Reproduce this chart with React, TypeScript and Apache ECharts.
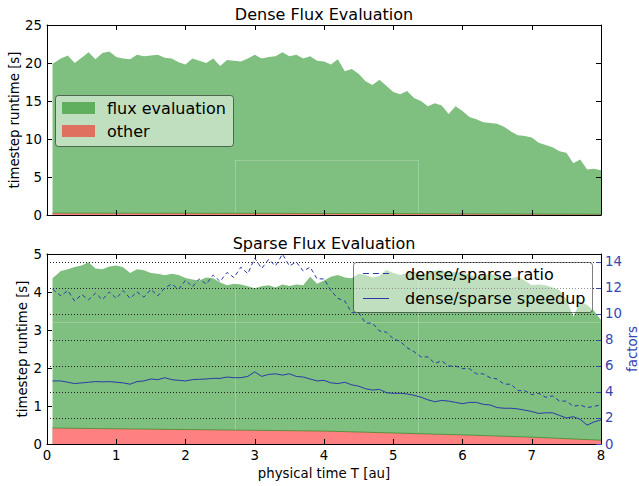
import React, { useEffect, useRef } from "react";
import * as echarts from "echarts";

// ---------- data ----------
const areaTime = [
  0.08, 0.2, 0.3, 0.4, 0.5, 0.6, 0.7, 0.8, 0.9, 1.0,
  1.1, 1.2, 1.3, 1.4, 1.5, 1.6, 1.7, 1.8, 1.9, 2.0,
  2.1, 2.2, 2.3, 2.4, 2.5, 2.6, 2.7, 2.8, 2.9, 3.0,
  3.1, 3.2, 3.3, 3.4, 3.5, 3.6, 3.7, 3.8, 3.9, 4.0,
  4.1, 4.2, 4.3, 4.4, 4.5, 4.6, 4.7, 4.8, 4.9, 5.0,
  5.1, 5.2, 5.3, 5.4, 5.5, 5.6, 5.7, 5.8, 5.9, 6.0,
  6.1, 6.2, 6.3, 6.4, 6.5, 6.6, 6.7, 6.8, 6.9, 7.0,
  7.1, 7.2, 7.3, 7.4, 7.5, 7.6, 7.7, 7.8, 7.9, 8.0,
];

// dense: total timestep runtime (flux evaluation + other) [s]
const denseTotal = [
  19.9, 20.6, 21.0, 20.0, 20.7, 21.4, 20.5, 21.3, 21.5, 20.8,
  20.6, 20.5, 21.1, 20.9, 21.0, 21.1, 20.7, 20.6, 20.1, 19.8,
  20.6, 20.3, 20.0, 20.6, 19.6, 20.4, 20.3, 20.2, 20.6, 21.1,
  20.6, 20.8, 20.9, 21.4, 20.9, 21.1, 20.6, 20.9, 20.3, 20.2,
  19.8, 20.5, 18.9, 19.2, 18.6, 17.6, 17.1, 17.8, 17.0, 16.2,
  15.9, 16.3, 15.4, 15.0, 14.3, 14.7, 14.4, 13.3, 14.3, 13.7,
  12.9, 12.6, 12.2, 12.1, 12.0, 11.6, 11.0, 10.5, 10.4, 10.2,
  9.5, 9.2, 8.9, 8.4, 8.2, 6.8, 7.3, 6.0, 6.1, 5.9,
];

// sparse: total timestep runtime [s]
const sparseTotal = [
  4.36, 4.55, 4.6, 4.66, 4.7, 4.78, 4.62, 4.6, 4.67, 4.7,
  4.65, 4.5, 4.6, 4.57, 4.5, 4.48, 4.44, 4.48, 4.45, 4.37,
  4.33, 4.3, 4.38, 4.36, 4.25, 4.18, 4.22, 4.2, 4.15, 4.1,
  4.15, 4.18, 4.12, 4.2, 4.16, 4.2, 4.18, 4.4, 4.22, 4.3,
  4.4, 4.45, 4.38, 4.36, 4.48, 4.45, 4.38, 4.42, 4.58, 4.5,
  4.45, 4.5, 4.53, 4.47, 4.5, 4.56, 4.58, 4.5, 4.53, 4.5,
  4.46, 4.4, 4.43, 4.48, 4.42, 4.33, 4.36, 4.4, 4.3, 4.18,
  4.2, 4.18, 4.12, 4.05, 3.8, 3.35, 3.75, 3.66, 3.5, 3.26,
];

const otherTime = [0.08, 1, 2, 3, 4, 5, 6, 7, 8];
const denseOther = [0.25, 0.24, 0.23, 0.22, 0.2, 0.18, 0.15, 0.12, 0.1];
const sparseOther = [0.42, 0.4, 0.38, 0.36, 0.34, 0.29, 0.24, 0.18, 0.1];

// factors (right axis)
const ratio = [
  11.9, 11.4, 11.8, 11.0, 11.5, 11.1, 11.6, 11.1, 11.7, 11.2,
  11.8, 11.2, 11.7, 11.3, 11.9, 11.4, 12.0, 12.3, 11.9, 12.6,
  12.1, 12.7, 12.3, 13.0, 12.5, 13.2, 12.8, 13.6, 13.1, 14.3,
  13.5, 14.2, 13.7, 14.6, 13.7, 14.0, 13.3, 13.6, 12.7, 12.7,
  11.8, 11.2, 11.0, 10.1, 10.1, 9.3, 9.3, 8.7, 8.6, 8.1,
  7.9, 7.4, 7.1, 6.7, 6.7, 6.2, 6.4, 6.0, 6.0, 5.8,
  5.8, 5.4, 5.4, 5.1, 5.0, 4.6, 4.6, 4.1, 4.1, 3.8,
  3.9, 3.6, 3.7, 3.3, 3.3, 2.9, 3.0, 2.8, 2.9, 3.0,
];
const speedup = [
  4.85, 4.85, 4.75, 4.65, 4.7, 4.75, 4.8, 4.78, 4.8, 4.75,
  4.7, 4.6, 4.8, 4.85, 5.0, 4.95, 5.1, 4.95, 4.9, 4.85,
  4.95, 4.98, 5.0, 5.05, 5.05, 5.15, 5.1, 5.1, 5.2, 5.55,
  5.2, 5.35, 5.4, 5.3, 5.4, 5.2, 5.15, 5.0, 4.85, 4.9,
  4.7, 4.65, 4.75, 4.55, 4.45, 4.25, 4.15, 4.2, 3.95, 3.9,
  3.9, 3.85, 3.75, 3.6, 3.4, 3.25, 3.35, 3.3, 3.2, 3.1,
  3.2, 3.2, 3.05, 3.0, 2.8, 2.75, 2.75, 2.7, 2.6, 2.5,
  2.35, 2.4, 2.4, 2.2, 2.0, 2.1, 1.9, 1.45, 1.7, 1.85,
];

const denseTicks = [0, 25, 5];
const sparseTicks = [0, 5, 1];
const factorTicks = [0, 14.615, 2];
const timeTicks = [0, 8, 1];

const FONT = "DejaVu Sans";
const GREEN = "rgba(0,128,0,0.5)";
const RED = "rgba(255,0,0,0.5)";
const RED_FILL = "#ff8080";
const BLUE = "#2a3aa8";
const FACTOR_BLUE = "#3646b0";
const FAINT = "rgba(255,255,255,0.22)";

export default function App() {
  const ref = useRef<HTMLDivElement>(null);

  useEffect(() => {
    document.body.style.margin = "0";
    const chart = echarts.init(ref.current!, null, { renderer: "svg" });
    const pairs = (xs: number[], ys: number[]) => xs.map((x, i) => [x, ys[i]]);

    const base = (showLabel: boolean, tickColor = "#000") => ({
      type: "value",
      z: 5,
      nameMoveOverlap: false,
      axisLine: { show: true, onZero: false, lineStyle: { color: "#000", width: 1 } },
      axisTick: { show: true, inside: true, length: 5, lineStyle: { color: tickColor, width: 1 } },
      axisLabel: { show: showLabel, color: "#000", fontSize: 13.3, fontFamily: FONT },
      splitLine: { show: false },
    });

    const xAx = (grid: number, pos: string, label: boolean) => ({
      ...base(label),
      gridIndex: grid,
      position: pos,
      min: timeTicks[0],
      max: timeTicks[1],
      interval: timeTicks[2],
      axisLabel: { show: label, color: "#000", fontSize: 13.3, fontFamily: FONT, margin: 5 },
    });

    const faintLines = (segs: number[][][]) => ({
      silent: true,
      symbol: ["none", "none"],
      label: { show: false },
      lineStyle: { color: FAINT, type: "solid", width: 1 },
      data: segs.map(([a, b]) => [{ coord: a }, { coord: b }]),
    });

    const option: any = {
      animation: false,
      textStyle: { fontFamily: FONT },
      grid: [
        { left: 47, top: 25, width: 554, height: 190, outerBoundsMode: "none", containLabel: false },
        { left: 47, top: 254, width: 554, height: 190, outerBoundsMode: "none", containLabel: false },
      ],
      xAxis: [
        xAx(0, "bottom", false),
        xAx(0, "top", false),
        {
          ...xAx(1, "bottom", true),
          name: "physical time T [au]",
          nameLocation: "middle",
          nameGap: 22.5,
          nameTextStyle: { fontSize: 13.3, color: "#000", fontFamily: FONT },
        },
        xAx(1, "top", false),
      ],
      yAxis: [
        {
          ...base(true),
          gridIndex: 0,
          position: "left",
          min: denseTicks[0],
          max: denseTicks[1],
          interval: denseTicks[2],
          axisLabel: { color: "#000", fontSize: 13.3, fontFamily: FONT, margin: 5 },
          name: "timestep runtime [s]",
          nameLocation: "middle",
          nameGap: 26.5,
          nameTextStyle: { fontSize: 13.3, color: "#000", fontFamily: FONT },
        },
        {
          ...base(false),
          gridIndex: 0,
          position: "right",
          min: denseTicks[0],
          max: denseTicks[1],
          interval: denseTicks[2],
        },
        {
          ...base(true),
          gridIndex: 1,
          position: "left",
          min: sparseTicks[0],
          max: sparseTicks[1],
          interval: sparseTicks[2],
          axisLabel: { color: "#000", fontSize: 13.3, fontFamily: FONT, margin: 5 },
          name: "timestep runtime [s]",
          nameLocation: "middle",
          nameGap: 18,
          nameTextStyle: { fontSize: 13.3, color: "#000", fontFamily: FONT },
        },
        {
          ...base(true, FACTOR_BLUE),
          gridIndex: 1,
          position: "right",
          min: factorTicks[0],
          max: factorTicks[1],
          interval: factorTicks[2],
          axisLabel: {
            color: FACTOR_BLUE,
            fontSize: 13.3,
            fontFamily: FONT,
            margin: 4,
            showMaxLabel: false,
            formatter: (v: number) => (Number.isInteger(v) ? String(v) : ""),
          },
          splitLine: { show: true, lineStyle: { color: "#222", width: 1, type: [1, 2] } },
          name: "factors",
          nameLocation: "middle",
          nameGap: 24.5,
          nameTextStyle: { fontSize: 13.3, color: FACTOR_BLUE, fontFamily: FONT },
        },
      ],
      series: [
        {
          name: "flux evaluation (dense)",
          type: "line",
          xAxisIndex: 0,
          yAxisIndex: 0,
          data: pairs(areaTime, denseTotal),
          symbol: "none",
          z: 2,
          lineStyle: { width: 0 },
          areaStyle: { color: GREEN, opacity: 1 },
          markLine: faintLines([
            [[2.715, 0.3], [2.715, 7.24]],
            [[2.715, 7.24], [5.357, 7.24]],
            [[5.357, 7.24], [5.357, 0.3]],
          ]),
        },
        {
          name: "other (dense)",
          type: "line",
          xAxisIndex: 0,
          yAxisIndex: 0,
          data: pairs(otherTime, denseOther),
          symbol: "none",
          z: 3,
          lineStyle: { width: 1, color: GREEN },
          areaStyle: { color: RED_FILL, opacity: 1 },
        },
        {
          name: "flux evaluation (sparse)",
          type: "line",
          xAxisIndex: 2,
          yAxisIndex: 2,
          data: pairs(areaTime, sparseTotal),
          symbol: "none",
          z: 2,
          lineStyle: { width: 0 },
          areaStyle: { color: GREEN, opacity: 1 },
          markLine: faintLines([
            [[2.715, 0.37], [2.715, 4.08]],
            [[5.357, 0.3], [5.357, 4.3]],
            [[0.08, 3.21], [8, 3.21]],
          ]),
        },
        {
          name: "other (sparse)",
          type: "line",
          xAxisIndex: 2,
          yAxisIndex: 2,
          data: pairs(otherTime, sparseOther),
          symbol: "none",
          z: 3,
          lineStyle: { width: 1, color: GREEN },
          areaStyle: { color: RED_FILL, opacity: 1 },
        },
        {
          name: "dense/sparse ratio",
          type: "line",
          xAxisIndex: 2,
          yAxisIndex: 3,
          data: pairs(areaTime, ratio),
          symbol: "none",
          z: 8,
          lineStyle: { color: BLUE, width: 1, type: [4, 3] },
        },
        {
          name: "dense/sparse speedup",
          type: "line",
          xAxisIndex: 2,
          yAxisIndex: 3,
          data: pairs(areaTime, speedup),
          symbol: "none",
          z: 8,
          lineStyle: { color: BLUE, width: 1 },
        },
      ],
      graphic: [
        {
          type: "text",
          x: 324,
          y: 14,
          z: 100,
          style: { text: "Dense Flux Evaluation", fontSize: 16, fontFamily: FONT, fill: "#000", align: "center", verticalAlign: "middle" },
        },
        {
          type: "text",
          x: 324,
          y: 243,
          z: 100,
          style: { text: "Sparse Flux Evaluation", fontSize: 16, fontFamily: FONT, fill: "#000", align: "center", verticalAlign: "middle" },
        },
        // top legend
        {
          type: "rect",
          z: 100,
          shape: { x: 55.5, y: 95.5, width: 178, height: 51, r: 3 },
          style: { fill: "rgba(255,255,255,0.5)", stroke: "rgba(0,0,0,0.5)", lineWidth: 1 },
        },
        { type: "rect", z: 101, shape: { x: 62, y: 102, width: 33, height: 12 }, style: { fill: GREEN } },
        { type: "rect", z: 101, shape: { x: 62, y: 125, width: 33, height: 12 }, style: { fill: RED } },
        {
          type: "text", x: 107, y: 108, z: 101,
          style: { text: "flux evaluation", fontSize: 16, fontFamily: FONT, fill: "#000", align: "left", verticalAlign: "middle" },
        },
        {
          type: "text", x: 107, y: 131, z: 101,
          style: { text: "other", fontSize: 16, fontFamily: FONT, fill: "#000", align: "left", verticalAlign: "middle" },
        },
        // bottom legend
        {
          type: "rect",
          z: 100,
          shape: { x: 353.5, y: 262.5, width: 239, height: 50, r: 3 },
          style: { fill: "rgba(255,255,255,0.5)", stroke: "rgba(0,0,0,0.5)", lineWidth: 1 },
        },
        {
          type: "line", z: 101,
          shape: { x1: 363, y1: 273.5, x2: 389, y2: 273.5 },
          style: { stroke: BLUE, lineWidth: 1, lineDash: [6, 4] },
        },
        {
          type: "line", z: 101,
          shape: { x1: 363, y1: 298.5, x2: 389, y2: 298.5 },
          style: { stroke: BLUE, lineWidth: 1 },
        },
        {
          type: "text", x: 405, y: 274, z: 101,
          style: { text: "dense/sparse ratio", fontSize: 16, fontFamily: FONT, fill: "#000", align: "left", verticalAlign: "middle" },
        },
        {
          type: "text", x: 405, y: 298, z: 101,
          style: { text: "dense/sparse speedup", fontSize: 16, fontFamily: FONT, fill: "#000", align: "left", verticalAlign: "middle" },
        },
      ],
    };

    chart.setOption(option);
    return () => chart.dispose();
  }, []);

  return <div ref={ref} style={{ position: "absolute", left: 0, top: 0, width: 639, height: 486 }} />;
}
